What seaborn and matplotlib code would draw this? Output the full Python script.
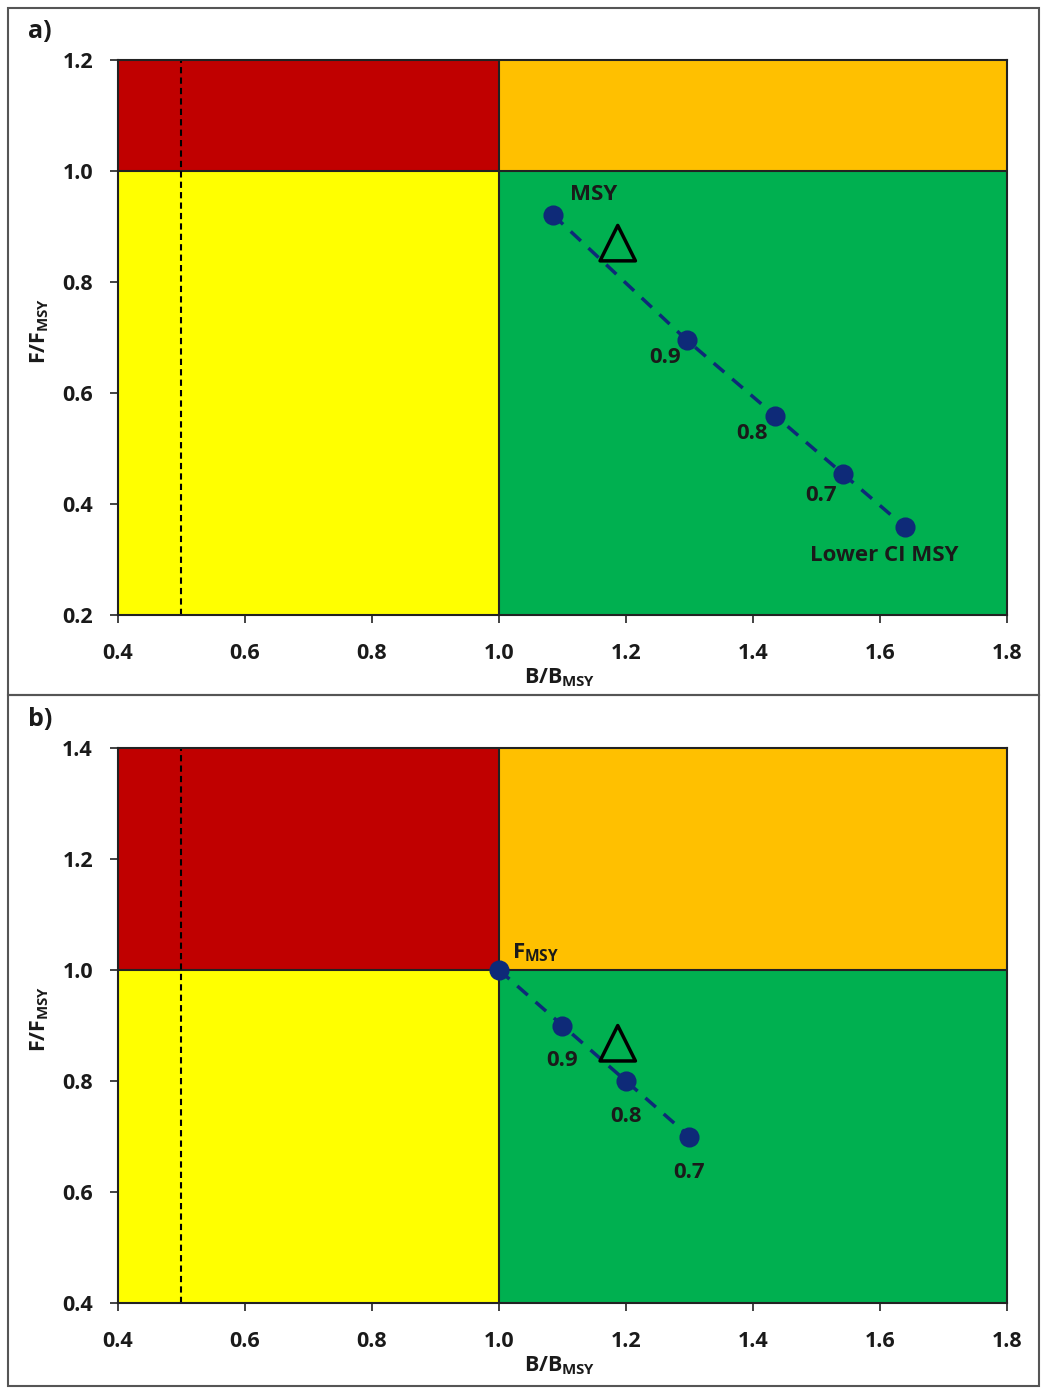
import numpy as np
import pandas as pd
import matplotlib
matplotlib.use("Agg")
import matplotlib.pyplot as plt
import seaborn as sns
from matplotlib.patches import Rectangle

sns.set_style("ticks")
plt.rcParams['font.family'] = ['Open Sans', 'DejaVu Sans']
plt.rcParams['font.weight'] = 'bold'
plt.rcParams['mathtext.fontset'] = 'custom'
plt.rcParams['mathtext.rm'] = 'Open Sans:bold'
plt.rcParams['mathtext.bf'] = 'Open Sans:bold'
plt.rcParams['mathtext.it'] = 'Open Sans:bold'

# Panel a data
a_x = [1.085, 1.296, 1.435, 1.542, 1.639]
a_y = [0.921, 0.695, 0.559, 0.454, 0.359]
a_labels = ["MSY", "0.9", "0.8", "0.7", "Lower CI MSY"]

# Panel b data
b_x = [1.0, 1.1, 1.2, 1.3]
b_y = [1.0, 0.9, 0.8, 0.7]
b_labels = ["$F_{MSY}$", "0.9", "0.8", "0.7"]

# current status (triangle)
a_tri = (1.187, 0.870)
b_tri = (1.187, 0.868)

red, orange, yellow, green = '#C00000', '#FFC000', '#FFFF00', '#00B050'
navy = '#0E2A78'
txt = '#1a1a1a'

fig = plt.figure(figsize=(10.41, 13.94), dpi=100)

# panel frames
for y0, h in [(1 - 695/1394, (695 - 8)/1394), (1 - 1386/1394, (1386 - 695)/1394)]:
    fig.patches.append(Rectangle((8/1041, y0), (1039 - 8)/1041, h, transform=fig.transFigure,
                                 fill=False, edgecolor='#555555', linewidth=1.5))

ax_a = fig.add_axes([118/1041, 1 - 615/1394, 889/1041, 555/1394])
ax_b = fig.add_axes([118/1041, 1 - 1303/1394, 889/1041, 555/1394])


def quadrants(ax, ymin, ymax):
    ax.fill_between([0.4, 1.0], 1.0, ymax, color=red, zorder=0, linewidth=0)
    ax.fill_between([1.0, 1.8], 1.0, ymax, color=orange, zorder=0, linewidth=0)
    ax.fill_between([0.4, 1.0], ymin, 1.0, color=yellow, zorder=0, linewidth=0)
    ax.fill_between([1.0, 1.8], ymin, 1.0, color=green, zorder=0, linewidth=0)
    ax.axhline(1.0, color='#222222', lw=1.5, zorder=1)
    ax.axvline(1.0, color='#222222', lw=1.5, zorder=1)
    ax.axvline(0.5, color='black', lw=1.5, ls=(0, (3, 2)), zorder=1)
    ax.set_xlim(0.4, 1.8)
    ax.set_ylim(ymin, ymax)
    for s in ax.spines.values():
        s.set_color('#222222')
        s.set_linewidth(1.5)
    ax.tick_params(direction='out', length=6, width=1.2, colors='#222222',
                   labelsize=15.5, labelcolor=txt)
    ax.tick_params(axis='x', pad=14)
    ax.tick_params(axis='y', pad=12)
    ax.set_xticks(np.arange(0.4, 1.81, 0.2))
    ax.set_xticklabels([f"{v:.1f}" for v in np.arange(0.4, 1.81, 0.2)], fontweight='bold')
    ax.set_xlabel("$B/B_{MSY}$", fontsize=15.5, color=txt)
    ax.set_ylabel("$F/F_{MSY}$", fontsize=15.5, color=txt)
    ax.xaxis.set_label_coords(0.497, -0.093)
    ax.yaxis.set_label_coords(-0.075, 0.512)


def series(ax, xs, ys, labels, offsets, tri):
    df = pd.DataFrame({'x': xs, 'y': ys})
    sns.lineplot(data=df, x='x', y='y', ax=ax, color=navy, lw=2.5,
                 linestyle=(0, (4, 3)), zorder=3, sort=False)
    sns.scatterplot(data=df, x='x', y='y', ax=ax, color=navy, s=180,
                    edgecolor=navy, zorder=4)
    for xv, yv, lab, (dx, dy) in zip(xs, ys, labels, offsets):
        ax.annotate(lab, (xv, yv), xytext=(dx, dy), textcoords='offset pixels',
                    ha='center', va='center', fontsize=16, fontweight='bold', color=txt)
    ax.scatter([tri[0]], [tri[1]], marker='^', s=650, facecolor='none',
               edgecolor='black', linewidths=2.5, zorder=5)


quadrants(ax_a, 0.2, 1.2)
ax_a.set_yticks(np.arange(0.2, 1.21, 0.2))
ax_a.set_yticklabels([f"{v:.1f}" for v in np.arange(0.2, 1.21, 0.2)], fontweight='bold')
series(ax_a, a_x, a_y, a_labels,
       [(41, 20), (-22, -17), (-23, -18), (-22, -21), (-21, -29)], a_tri)

quadrants(ax_b, 0.4, 1.4)
ax_b.set_yticks(np.arange(0.4, 1.41, 0.2))
ax_b.set_yticklabels([f"{v:.1f}" for v in np.arange(0.4, 1.41, 0.2)], fontweight='bold')
series(ax_b, b_x, b_y, b_labels,
       [(36, 17), (0, -35), (0, -35), (0, -36)], b_tri)

fig.text(40/1041, 1 - 32/1394, "a)", fontsize=18, fontweight='bold', color=txt, ha='center', va='center')
fig.text(40/1041, 1 - 720/1394, "b)", fontsize=18, fontweight='bold', color=txt, ha='center', va='center')

fig.savefig("out.png", dpi=100)
